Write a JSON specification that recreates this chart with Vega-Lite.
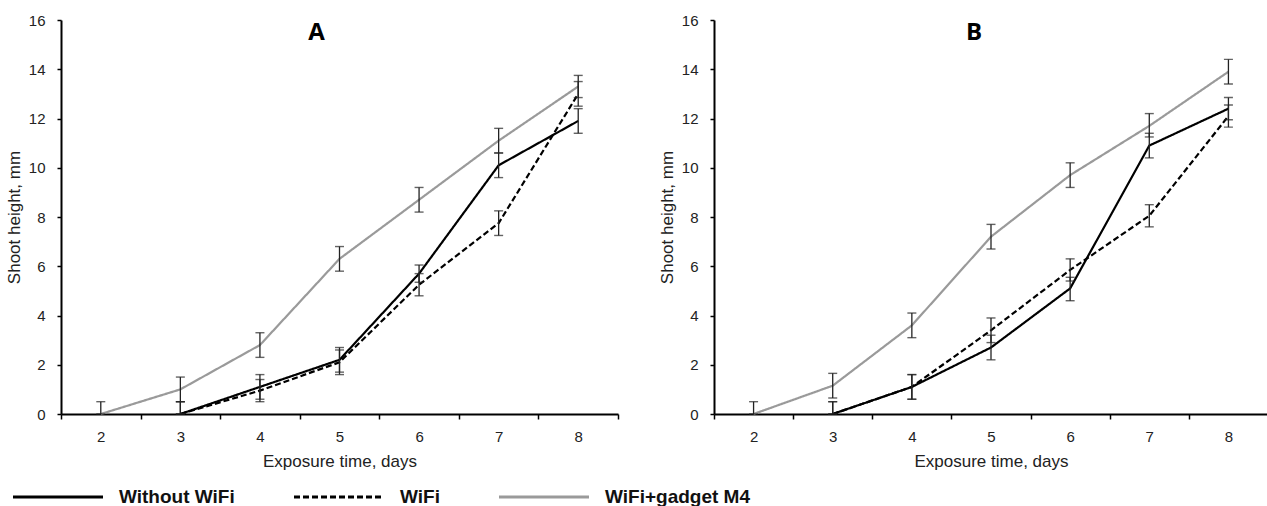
{
  "$schema": "https://vega.github.io/schema/vega-lite/v6.json",
  "padding": {"left": 5, "top": 13, "right": 0, "bottom": 0},
  "background": "white",
  "datasets": {
    "d": [
      {"panel": "A", "series": "Without WiFi", "day": 3, "y": 0, "lo": 0, "hi": 0.5},
      {"panel": "A", "series": "Without WiFi", "day": 4, "y": 1.1, "lo": 0.6, "hi": 1.6},
      {"panel": "A", "series": "Without WiFi", "day": 5, "y": 2.2, "lo": 1.7, "hi": 2.7},
      {"panel": "A", "series": "Without WiFi", "day": 6, "y": 5.7, "lo": 5.35, "hi": 6.05},
      {"panel": "A", "series": "Without WiFi", "day": 7, "y": 10.1, "lo": 9.6, "hi": 10.6},
      {"panel": "A", "series": "Without WiFi", "day": 8, "y": 11.9, "lo": 11.4, "hi": 12.4},
      {"panel": "A", "series": "WiFi", "day": 3, "y": 0, "lo": 0, "hi": 0.5},
      {"panel": "A", "series": "WiFi", "day": 4, "y": 0.95, "lo": 0.5, "hi": 1.4},
      {"panel": "A", "series": "WiFi", "day": 5, "y": 2.1, "lo": 1.6, "hi": 2.6},
      {"panel": "A", "series": "WiFi", "day": 6, "y": 5.25, "lo": 4.8, "hi": 5.7},
      {"panel": "A", "series": "WiFi", "day": 7, "y": 7.75, "lo": 7.25, "hi": 8.25},
      {"panel": "A", "series": "WiFi", "day": 8, "y": 13.0, "lo": 12.5, "hi": 13.5},
      {"panel": "A", "series": "WiFi+gadget M4", "day": 2, "y": 0, "lo": 0, "hi": 0.5},
      {"panel": "A", "series": "WiFi+gadget M4", "day": 3, "y": 1.0, "lo": 0.5, "hi": 1.5},
      {"panel": "A", "series": "WiFi+gadget M4", "day": 4, "y": 2.8, "lo": 2.3, "hi": 3.3},
      {"panel": "A", "series": "WiFi+gadget M4", "day": 5, "y": 6.3, "lo": 5.8, "hi": 6.8},
      {"panel": "A", "series": "WiFi+gadget M4", "day": 6, "y": 8.7, "lo": 8.2, "hi": 9.2},
      {"panel": "A", "series": "WiFi+gadget M4", "day": 7, "y": 11.1, "lo": 10.6, "hi": 11.6},
      {"panel": "A", "series": "WiFi+gadget M4", "day": 8, "y": 13.3, "lo": 12.85, "hi": 13.75},
      {"panel": "B", "series": "Without WiFi", "day": 3, "y": 0, "lo": 0, "hi": 0.5},
      {"panel": "B", "series": "Without WiFi", "day": 4, "y": 1.1, "lo": 0.6, "hi": 1.6},
      {"panel": "B", "series": "Without WiFi", "day": 5, "y": 2.7, "lo": 2.2, "hi": 3.2},
      {"panel": "B", "series": "Without WiFi", "day": 6, "y": 5.1, "lo": 4.6, "hi": 5.55},
      {"panel": "B", "series": "Without WiFi", "day": 7, "y": 10.9, "lo": 10.4, "hi": 11.4},
      {"panel": "B", "series": "Without WiFi", "day": 8, "y": 12.4, "lo": 11.95, "hi": 12.85},
      {"panel": "B", "series": "WiFi", "day": 3, "y": 0, "lo": 0, "hi": 0.5},
      {"panel": "B", "series": "WiFi", "day": 4, "y": 1.1, "lo": 0.6, "hi": 1.6},
      {"panel": "B", "series": "WiFi", "day": 5, "y": 3.4, "lo": 2.9, "hi": 3.9},
      {"panel": "B", "series": "WiFi", "day": 6, "y": 5.85, "lo": 5.4, "hi": 6.3},
      {"panel": "B", "series": "WiFi", "day": 7, "y": 8.05, "lo": 7.6, "hi": 8.5},
      {"panel": "B", "series": "WiFi", "day": 8, "y": 12.1, "lo": 11.65, "hi": 12.55},
      {"panel": "B", "series": "WiFi+gadget M4", "day": 2, "y": 0, "lo": 0, "hi": 0.5},
      {"panel": "B", "series": "WiFi+gadget M4", "day": 3, "y": 1.15, "lo": 0.65, "hi": 1.65},
      {"panel": "B", "series": "WiFi+gadget M4", "day": 4, "y": 3.6, "lo": 3.1, "hi": 4.1},
      {"panel": "B", "series": "WiFi+gadget M4", "day": 5, "y": 7.2, "lo": 6.7, "hi": 7.7},
      {"panel": "B", "series": "WiFi+gadget M4", "day": 6, "y": 9.7, "lo": 9.2, "hi": 10.2},
      {"panel": "B", "series": "WiFi+gadget M4", "day": 7, "y": 11.7, "lo": 11.25, "hi": 12.2},
      {"panel": "B", "series": "WiFi+gadget M4", "day": 8, "y": 13.9, "lo": 13.4, "hi": 14.4}
    ]
  },
  "spacing": 39,
  "hconcat": [
    {
      "width": 557,
      "height": 394,
      "data": {"name": "d"},
      "transform": [{"filter": "datum.panel === 'A'"}],
      "title": {"text": "A", "font": "Open Sans", "fontSize": 24, "fontWeight": "bold", "color": "black", "anchor": "middle", "frame": "group", "dx": -23, "dy": 36},
      "encoding": {
        "x": {"field": "day", "type": "ordinal", "scale": {"type": "band", "paddingInner": 0, "paddingOuter": 0, "domain": [2, 3, 4, 5, 6, 7, 8]},
              "axis": {"title": "Exposure time, days", "tickBand": "extent", "labelAngle": 0}}
      },
      "layer": [
        {"mark": {"type": "line", "strokeWidth": 2.2},
         "encoding": {
           "y": {"field": "y", "type": "quantitative", "scale": {"domain": [0, 16], "nice": false}, "axis": {"title": "Shoot height, mm", "values": [0, 2, 4, 6, 8, 10, 12, 14, 16]}},
           "color": {"field": "series", "type": "nominal", "scale": {"domain": ["Without WiFi", "WiFi", "WiFi+gadget M4"], "range": ["#000000", "#000000", "#9a9a9a"]}, "legend": {"title": null}},
           "strokeDash": {"field": "series", "type": "nominal", "scale": {"domain": ["Without WiFi", "WiFi", "WiFi+gadget M4"], "range": [[1, 0], [6, 3], [1, 0]]}, "legend": {"title": null}}
         }},
        {"mark": {"type": "rule", "color": "#222", "strokeWidth": 1.3},
         "encoding": {"y": {"field": "lo", "type": "quantitative"}, "y2": {"field": "hi"}}},
        {"mark": {"type": "tick", "color": "#222", "size": 9, "thickness": 1.4, "orient": "horizontal"},
         "encoding": {"y": {"field": "lo", "type": "quantitative"}}},
        {"mark": {"type": "tick", "color": "#222", "size": 9, "thickness": 1.4, "orient": "horizontal"},
         "encoding": {"y": {"field": "hi", "type": "quantitative"}}}
      ]
    },
    {
      "width": 554,
      "height": 394,
      "data": {"name": "d"},
      "transform": [{"filter": "datum.panel === 'B'"}],
      "title": {"text": "B", "font": "Open Sans", "fontSize": 24, "fontWeight": "bold", "color": "black", "anchor": "middle", "frame": "group", "dx": -17, "dy": 36},
      "encoding": {
        "x": {"field": "day", "type": "ordinal", "scale": {"type": "band", "paddingInner": 0, "paddingOuter": 0, "domain": [2, 3, 4, 5, 6, 7, 8]},
              "axis": {"title": "Exposure time, days", "tickBand": "extent", "labelAngle": 0}}
      },
      "layer": [
        {"mark": {"type": "line", "strokeWidth": 2.2},
         "encoding": {
           "y": {"field": "y", "type": "quantitative", "scale": {"domain": [0, 16], "nice": false}, "axis": {"title": "Shoot height, mm", "values": [0, 2, 4, 6, 8, 10, 12, 14, 16]}},
           "color": {"field": "series", "type": "nominal", "scale": {"domain": ["Without WiFi", "WiFi", "WiFi+gadget M4"], "range": ["#000000", "#000000", "#9a9a9a"]}, "legend": {"title": null}},
           "strokeDash": {"field": "series", "type": "nominal", "scale": {"domain": ["Without WiFi", "WiFi", "WiFi+gadget M4"], "range": [[1, 0], [6, 3], [1, 0]]}, "legend": {"title": null}}
         }},
        {"mark": {"type": "rule", "color": "#222", "strokeWidth": 1.3},
         "encoding": {"y": {"field": "lo", "type": "quantitative"}, "y2": {"field": "hi"}}},
        {"mark": {"type": "tick", "color": "#222", "size": 9, "thickness": 1.4, "orient": "horizontal"},
         "encoding": {"y": {"field": "lo", "type": "quantitative"}}},
        {"mark": {"type": "tick", "color": "#222", "size": 9, "thickness": 1.4, "orient": "horizontal"},
         "encoding": {"y": {"field": "hi", "type": "quantitative"}}}
      ]
    }
  ],
  "config": {
    "view": {"stroke": null},
    "axis": {
      "grid": false,
      "domainColor": "black", "domainWidth": 2,
      "tickColor": "black", "tickWidth": 1.5,
      "labelFont": "Liberation Sans", "labelFontSize": 15, "labelColor": "#222",
      "titleFont": "Liberation Sans", "titleFontSize": 17, "titleFontWeight": "normal", "titleColor": "#222"
    },
    "axisY": {"tickSize": 4, "labelPadding": 12, "titlePadding": 5},
    "axisX": {"tickSize": 5, "labelPadding": 10, "titlePadding": 9},
    "legend": {
      "orient": "none", "legendX": -50, "legendY": 430,
      "direction": "horizontal",
      "symbolType": "stroke", "symbolSize": 8100, "symbolStrokeWidth": 3.2,
      "labelFont": "Liberation Sans", "labelFontSize": 19, "labelFontWeight": "bold", "labelColor": "#111",
      "labelOffset": 14, "columnPadding": 52
    }
  }
}
